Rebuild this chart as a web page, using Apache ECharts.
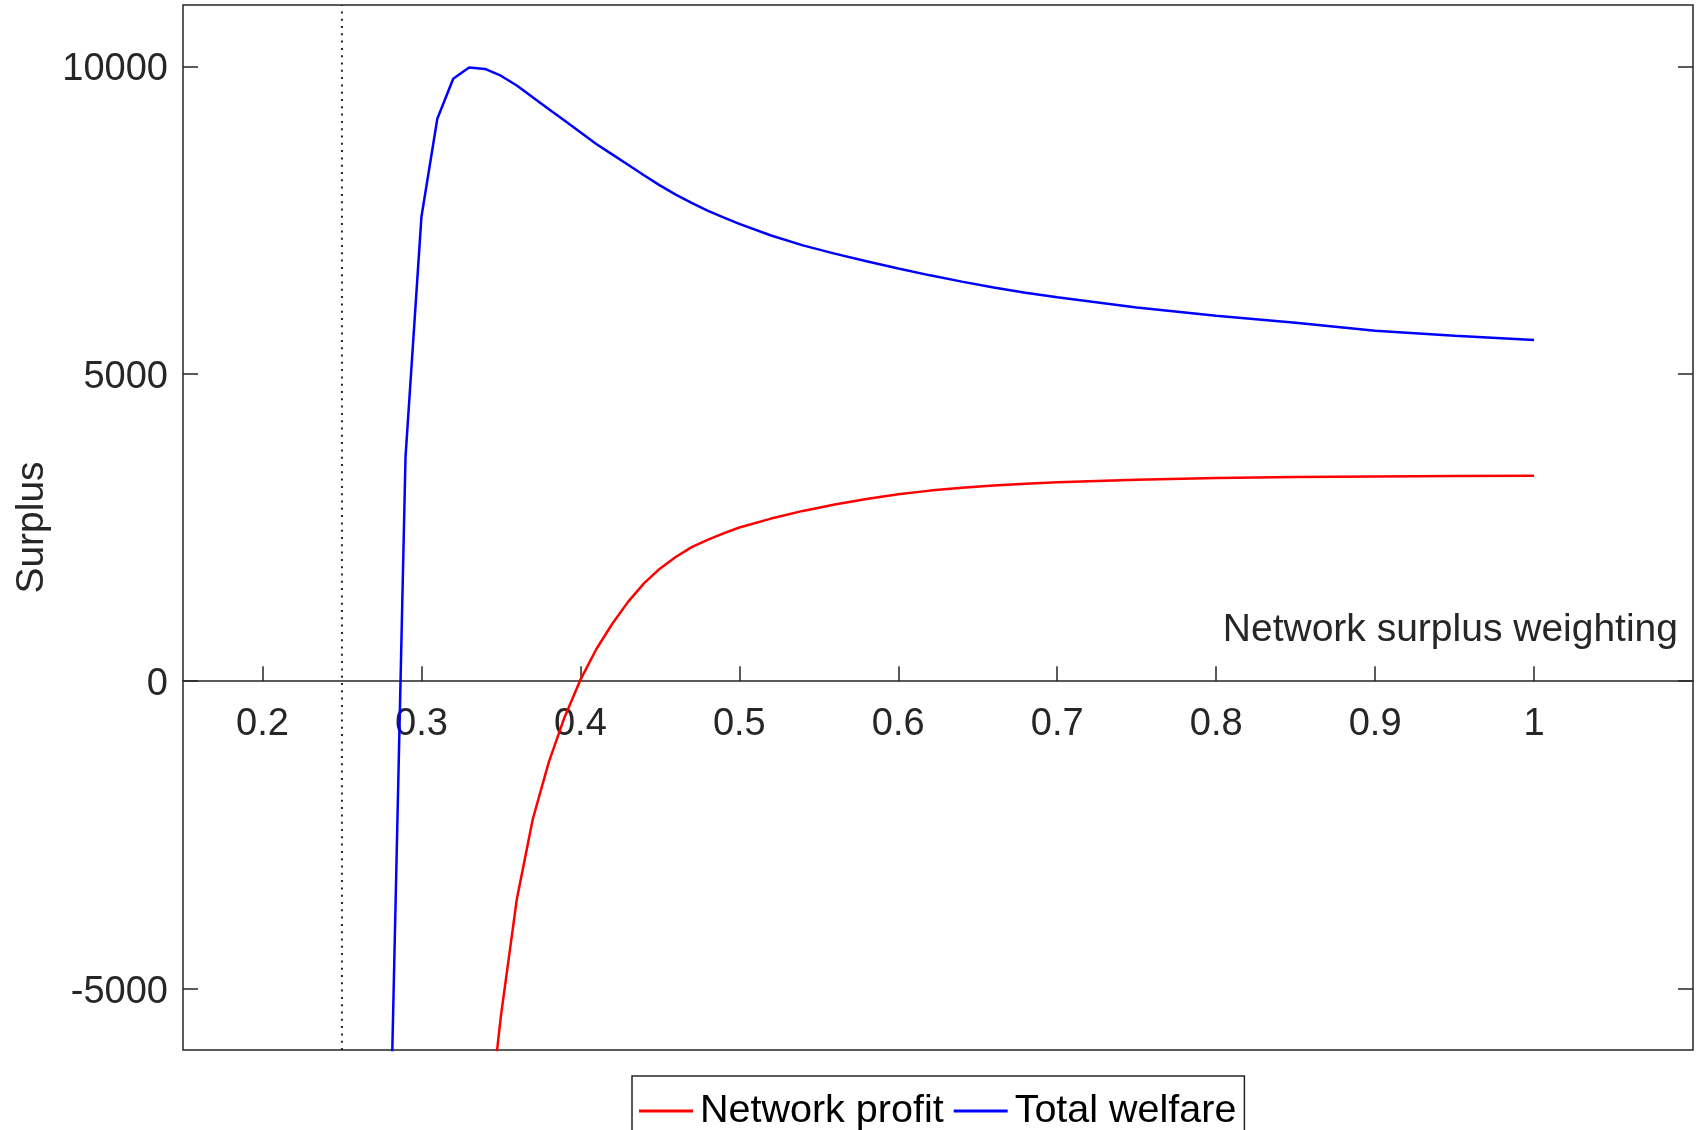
<!DOCTYPE html>
<html>
<head>
<meta charset="utf-8">
<title>Surplus vs network surplus weighting</title>
<script src="https://cdn.jsdelivr.net/npm/echarts@6/dist/echarts.min.js"></script>
<style>
  html, body { margin: 0; padding: 0; background: #fff; }
  #chart { width: 1696px; height: 1130px; }
</style>
</head>
<body>
<div id="chart"></div>
<script>
// sample points of the weighting (x axis)
const weighting = [0.28, 0.29, 0.30, 0.31, 0.32, 0.33, 0.34, 0.35, 0.36, 0.37, 0.38, 0.39,
  0.40, 0.41, 0.42, 0.43, 0.44, 0.45, 0.46, 0.47, 0.48, 0.49, 0.50,
  0.52, 0.54, 0.56, 0.58, 0.60, 0.62, 0.64, 0.66, 0.68, 0.70,
  0.75, 0.80, 0.85, 0.90, 0.95, 1.00];

const networkProfit = [null, null, null, null, null, null, -7750, -5450, -3550, -2250, -1330, -590,
  20, 520, 930, 1290, 1590, 1830, 2020, 2180, 2300, 2405, 2500,
  2645, 2770, 2875, 2965, 3040, 3100, 3148, 3185, 3213, 3235,
  3278, 3305, 3322, 3331, 3337, 3340];

const totalWelfare = [-7950, 3650, 7550, 9150, 9800, 9985, 9960, 9850, 9690, 9500, 9310, 9120,
  8930, 8740, 8570, 8400, 8230, 8065, 7915, 7780, 7655, 7545, 7440,
  7250, 7090, 6955, 6830, 6712, 6602, 6500, 6405, 6320, 6245,
  6080, 5945, 5830, 5700, 5620, 5550];

const xTicks = [0.2, 0.3, 0.4, 0.5, 0.6, 0.7, 0.8, 0.9, 1];
const yTicks = [-5000, 0, 5000, 10000];
const xRange = [0.15, 1.1];
const yRange = [-6000, 11000];
const thresholdX = 0.25;

const axisColor = '#262626';
const fontFamily = '"Liberation Sans", Arial, sans-serif';

// grid geometry (px)
const gridTop = 5;
const gridHeight = 1045;
// move the x axis up onto y = 0
const zeroOffset = -gridHeight * (0 - yRange[0]) / (yRange[1] - yRange[0]);

function toPairs(xs, ys) {
  let out = [];
  for (var i = 0; i < xs.length; i++) {
    if (ys[i] === null) {
      continue;
    }
    out.push([xs[i], ys[i]]);
  }
  return out;
}

var myChart = echarts.init(document.getElementById('chart'), null, { renderer: 'canvas' });

const option = {
  animation: false,
  backgroundColor: '#fff',
  textStyle: { fontFamily: fontFamily },
  grid: {
    left: 183,
    right: 3,
    top: gridTop,
    height: gridHeight,
    outerBoundsMode: 'none',
    containLabel: false,
    show: true,
    borderColor: axisColor,
    borderWidth: 1.5,
    backgroundColor: '#fff'
  },
  legend: {
    data: ['Network profit', 'Total welfare'],
    left: 632,
    top: 1076,
    orient: 'horizontal',
    icon: 'rect',
    itemWidth: 54,
    itemHeight: 3,
    itemGap: 10,
    padding: [15, 8, 40, 7],
    borderColor: axisColor,
    borderWidth: 1.5,
    backgroundColor: '#fff',
    textStyle: { fontSize: 39.5, color: '#000', fontFamily: fontFamily, lineHeight: 40, padding: [0, 0, 0, 2] }
  },
  xAxis: {
    type: 'value',
    min: xRange[0],
    max: xRange[1],
    position: 'bottom',
    offset: zeroOffset,
    name: 'Network surplus weighting',
    nameLocation: 'end',
    nameGap: -15,
    nameTextStyle: {
      fontSize: 39,
      color: axisColor,
      align: 'right',
      verticalAlign: 'bottom',
      padding: [0, 0, 31, 0]
    },
    axisLine: {
      show: true,
      onZero: false,
      lineStyle: { color: axisColor, width: 1.5 }
    },
    axisTick: {
      show: true,
      inside: true,
      length: 15,
      customValues: xTicks,
      lineStyle: { color: axisColor, width: 1.5 }
    },
    axisLabel: {
      show: true,
      customValues: xTicks,
      margin: 24,
      fontSize: 38,
      color: axisColor,
      formatter: function (v) { return String(v); }
    },
    splitLine: { show: false }
  },
  yAxis: [
    {
      type: 'value',
      position: 'left',
      min: yRange[0],
      max: yRange[1],
      name: 'Surplus',
      nameLocation: 'middle',
      nameGap: 120,
      nameTextStyle: { fontSize: 39, color: axisColor },
      axisLine: { show: false },
      axisTick: {
        show: true,
        inside: true,
        length: 15,
        customValues: yTicks,
        lineStyle: { color: axisColor, width: 1.5 }
      },
      axisLabel: {
        show: true,
        customValues: yTicks,
        margin: 15,
        fontSize: 38,
        color: axisColor,
        formatter: function (v) { return '{v|' + v + '}'; },
        rich: {
          v: { fontSize: 38, color: axisColor, padding: [7, 0, 0, 0] }
        }
      },
      splitLine: { show: false }
    },
    {
      type: 'value',
      position: 'right',
      min: yRange[0],
      max: yRange[1],
      axisLine: { show: false },
      axisTick: {
        show: true,
        inside: true,
        length: 15,
        customValues: yTicks,
        lineStyle: { color: axisColor, width: 1.5 }
      },
      axisLabel: { show: false },
      splitLine: { show: false }
    }
  ],
  series: [
    {
      name: 'threshold',
      type: 'line',
      yAxisIndex: 0,
      symbol: 'none',
      silent: true,
      data: [[thresholdX, yRange[0]], [thresholdX, yRange[1]]],
      lineStyle: { color: axisColor, width: 2, type: [2, 5.3], cap: 'butt' }
    },
    {
      name: 'Network profit',
      type: 'line',
      yAxisIndex: 0,
      symbol: 'none',
      clip: true,
      data: toPairs(weighting, networkProfit),
      itemStyle: { color: '#ff0000' },
      lineStyle: { color: '#ff0000', width: 2.5 }
    },
    {
      name: 'Total welfare',
      type: 'line',
      yAxisIndex: 0,
      symbol: 'none',
      clip: true,
      data: toPairs(weighting, totalWelfare),
      itemStyle: { color: '#0000ff' },
      lineStyle: { color: '#0000ff', width: 2.5 }
    }
  ]
};

myChart.setOption(option);
</script>
</body>
</html>
